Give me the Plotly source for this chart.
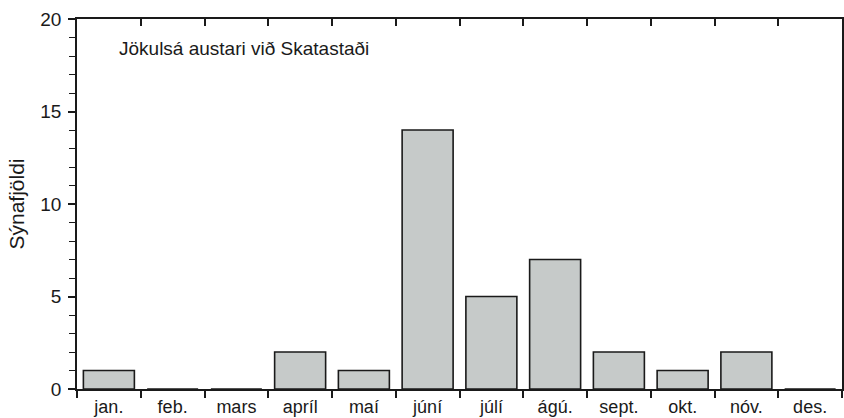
import plotly.graph_objects as go

months = ["jan.", "feb.", "mars", "apríl", "maí", "júní", "júlí", "ágú.", "sept.", "okt.", "nóv.", "des."]
counts = [1, 0, 0, 2, 1, 14, 5, 7, 2, 1, 2, 0]
y_ticks = [0, 5, 10, 15, 20]
title_text = "Jökulsá austari við Skatastaði"
y_title = "Sýnafjöldi"

font_family = "Liberation Sans, Arial, Helvetica, sans-serif"
ink = "#1a1a1a"

fig = go.Figure()
fig.add_trace(go.Bar(
    x=months, y=counts, width=0.8,
    marker=dict(color="#c6cac9", line=dict(color=ink, width=1.6)),
    showlegend=False, hoverinfo="skip",
))
# invisible trace to anchor the top axis
fig.add_trace(go.Scatter(x=[0], y=[0], xaxis="x2", mode="markers",
                         marker=dict(opacity=0), showlegend=False, hoverinfo="skip"))

fig.update_layout(
    width=844, height=418,
    margin=dict(l=77, r=2, t=19, b=29),
    plot_bgcolor="white", paper_bgcolor="white",
    font=dict(family=font_family, color=ink),
    xaxis=dict(
        type="category", categoryorder="array", categoryarray=months,
        range=[-0.5, 11.5], automargin=False,
        tickson="boundaries", ticks="outside", ticklen=7, tickwidth=1.5, tickcolor=ink,
        ticklabelstandoff=1,
        showline=True, linecolor=ink, linewidth=1.5,
        showgrid=False, zeroline=False,
        tickfont=dict(size=18, family=font_family),
    ),
    xaxis2=dict(
        overlaying="x", side="top", range=[-0.5, 11.5], type="linear", automargin=False,
        tickvals=[i + 0.5 for i in range(11)], ticks="inside", ticklen=7, tickwidth=1.5,
        tickcolor=ink, showticklabels=False,
        showline=True, linecolor=ink, linewidth=1.5,
        showgrid=False, zeroline=False, anchor="y",
    ),
    yaxis=dict(
        range=[0, 20], tickvals=y_ticks, ticks="outside", ticklen=7, tickwidth=1.5,
        tickcolor=ink, ticklabelstandoff=3, automargin=False,
        minor=dict(dtick=1, ticks="outside", ticklen=6, tickwidth=1, tickcolor=ink),
        showline=True, linecolor=ink, linewidth=1.5, mirror=True,
        showgrid=False, zeroline=False,
        tickfont=dict(size=19, family=font_family),
        title=dict(text=y_title, font=dict(size=21, family=font_family), standoff=10),
    ),
    annotations=[dict(
        text=title_text, xref="paper", yref="paper", x=0.052, y=0.921,
        xanchor="left", yanchor="middle", showarrow=False,
        font=dict(size=19, family=font_family, color=ink),
    )],
)

fig.write_html(
    "out.html",
    config={"displayModeBar": False},
    post_script="document.body.style.margin='0';document.documentElement.style.overflow='hidden';",
)
